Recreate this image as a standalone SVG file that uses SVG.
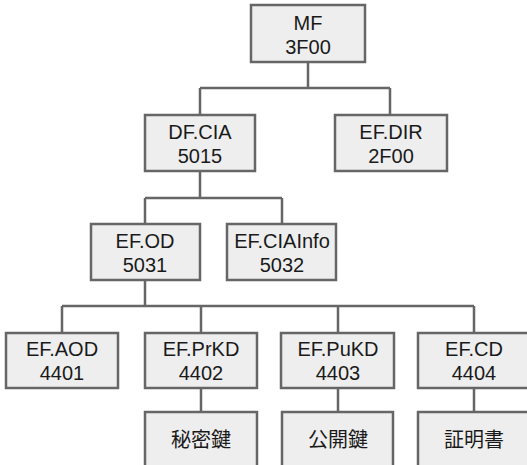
<svg xmlns="http://www.w3.org/2000/svg" width="527" height="465" viewBox="0 0 527 465">
<style>
.box{fill:#eeeeee;stroke:#666666;stroke-width:2.5}
.t{font-family:"Liberation Sans","Noto Sans CJK JP",Arial,sans-serif;font-size:20px;fill:#1a1a1a;text-anchor:middle}
.c{fill:none;stroke:#666666;stroke-width:2.5}
</style>
<rect width="527" height="465" fill="#ffffff"/>
<g id="connectors">
<path class="c" d="M308 62V88M200 88H390M200 88V115M390 88V115"/>
<path class="c" d="M200 171V198M145 198H282M145 198V224M282 198V224"/>
<path class="c" d="M145 280V306M62 306H474M62 306V333M201 306V333M338 306V333M474 306V333"/>
<path class="c" d="M201 388V412M338 388V412M474 388V412"/>
</g>
<g id="mf"><rect class="box" x="251" y="5" width="114" height="57"/><text class="t" x="308" y="30">MF</text><text class="t" x="308" y="54">3F00</text></g>
<g id="dfcia"><rect class="box" x="145" y="115" width="110" height="56"/><text class="t" x="200" y="139">DF.CIA</text><text class="t" x="200" y="163">5015</text></g>
<g id="efdir"><rect class="box" x="335" y="115" width="112" height="56"/><text class="t" x="391" y="139">EF.DIR</text><text class="t" x="391" y="163">2F00</text></g>
<g id="efod"><rect class="box" x="91" y="224" width="109" height="56"/><text class="t" x="145" y="248">EF.OD</text><text class="t" x="145" y="272">5031</text></g>
<g id="efciainfo"><rect class="box" x="227" y="224" width="109" height="56"/><text class="t" x="282" y="248">EF.CIAInfo</text><text class="t" x="282" y="272">5032</text></g>
<g id="efaod"><rect class="box" x="6" y="333" width="112" height="55"/><text class="t" x="62" y="356">EF.AOD</text><text class="t" x="62" y="380">4401</text></g>
<g id="efprkd"><rect class="box" x="145" y="333" width="112" height="55"/><text class="t" x="201" y="356">EF.PrKD</text><text class="t" x="201" y="380">4402</text></g>
<g id="efpukd"><rect class="box" x="281" y="333" width="113" height="55"/><text class="t" x="338" y="356">EF.PuKD</text><text class="t" x="338" y="380">4403</text></g>
<g id="efcd"><rect class="box" x="418" y="333" width="113" height="55"/><text class="t" x="474" y="356">EF.CD</text><text class="t" x="474" y="380">4404</text></g>
<g id="privkey"><rect class="box" x="145" y="412" width="112" height="60"/><text class="t" x="201" y="447">秘密鍵</text></g>
<g id="pubkey"><rect class="box" x="282" y="412" width="111" height="60"/><text class="t" x="338" y="447">公開鍵</text></g>
<g id="cert"><rect class="box" x="418" y="412" width="113" height="60"/><text class="t" x="474" y="447">証明書</text></g>
</svg>
